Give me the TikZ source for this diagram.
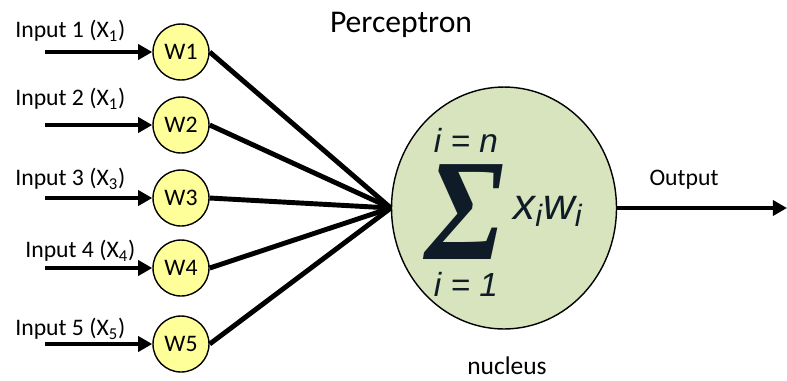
\documentclass[tikz,border=0pt]{standalone}
\usepackage{fontspec}
\usepackage{graphicx}
\setmainfont{Carlito}
\newfontfamily\formulafont{Liberation Sans}
\newfontfamily\sigmafont{Liberation Serif}
\usetikzlibrary{arrows.meta,shapes.geometric}
\definecolor{neuronink}{HTML}{000000}
\definecolor{weightfill}{HTML}{FFFF99}
\definecolor{nucleusfill}{HTML}{D7E4BD}
\definecolor{formulaink}{HTML}{0F1C28}

\tikzset{
  weight/.style={circle, draw=neuronink, line width=0.8pt, fill=weightfill,
                 minimum size=1.12cm, inner sep=0pt},
  nucleus/.style={ellipse, draw=neuronink, line width=0.8pt, fill=nucleusfill,
                  minimum width=4.5cm, minimum height=4.84cm, inner sep=0pt},
  inarrow/.style={neuronink, line width=2.8pt, ->},
  synapse/.style={neuronink, line width=2.8pt},
  formula/.style={formulaink, inner sep=0pt, font=\formulafont\itshape\fontsize{19}{22}\selectfont}
}

\begin{document}
\begin{tikzpicture}[x=0.02cm, y=-0.02cm, >={Triangle[length=8pt,width=8.5pt]},
                    every node/.style={neuronink, font=\fontsize{13.5}{16}\selectfont}]

  \useasboundingbox (0,0) rectangle (787,380);

  %% ---- title ----
  \node[font=\fontsize{18}{22}\selectfont] (title) at (401,25) {Perceptron};

  %% ---- nucleus (summing unit) ----
  \node[nucleus] (nuc) at (504,208) {};

  %% ---- inputs and their weights ----
  \foreach \i/\y/\s/\lx/\ly in {1/52/1/15/31, 2/125/1/15/99, 3/198/3/15/179,
                                4/268/4/25/251, 5/344/5/15/329} {
    \node[weight] (w\i) at (181,\y) {W\i};
    \node[anchor=west, inner sep=0pt] (in\i) at (\lx,\ly) {Input \i\ (X\textsubscript{\s})};
    \coordinate (src\i) at (45,\y);
    \draw[inarrow] (src\i) -- (w\i);
    \draw[synapse] (w\i.east) -- (nuc.west);
  }

  %% ---- sum formula inside the nucleus ----
  \node[formula] (sig) at (465,212) {\resizebox*{45pt}{54pt}{\sigmafont\bfseries Σ}};
  \node[formula] (upper) at (466,140) {i = n};
  \node[formula] (lower) at (466,284) {i = 1};
  \node[formula, font=\formulafont\itshape\fontsize{25}{28}\selectfont]
    (xw) at (548,211) {x\textsubscript{i}w\textsubscript{i}};

  %% ---- output ----
  \coordinate (out) at (787,208);
  \draw[inarrow] (nuc.east) -- (out);
  \node (outlbl) at (684,180) {Output};

  \node[font=\fontsize{14.5}{17}\selectfont, inner sep=0pt] (nuclbl) at (507,366) {nucleus};

\end{tikzpicture}
\end{document}
